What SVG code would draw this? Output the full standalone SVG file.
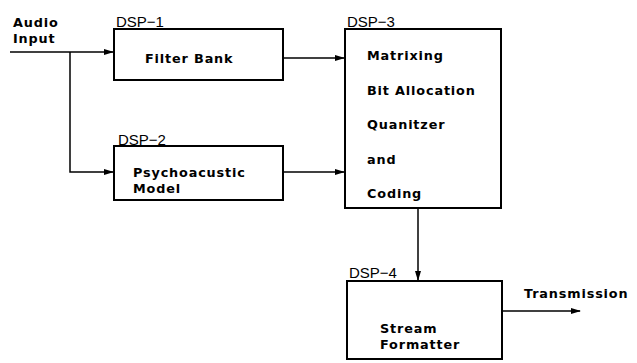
<svg xmlns="http://www.w3.org/2000/svg" width="637" height="363" viewBox="0 0 637 363">
<style>
.box{fill:#fff;stroke:#000;stroke-width:2}
.t{font-family:"DejaVu Sans","Liberation Sans",Arial,sans-serif;font-weight:bold;font-size:12.8px;letter-spacing:0.85px;fill:#000}
.lbl{font-family:"Liberation Sans",Arial,sans-serif;font-size:15px;fill:#000}
.c{fill:none;stroke:#000;stroke-width:1.5}
</style>
<defs>
<marker id="ah" markerWidth="10" markerHeight="8" refX="9" refY="4" orient="auto" markerUnits="userSpaceOnUse">
<path d="M0,1 L10,4 L0,7 Z" fill="#000"/>
</marker>
</defs>
<rect width="637" height="363" fill="#fff"/>
<g id="audio-input">
<text class="t" x="13" y="27"><tspan x="13" y="27">Audio</tspan><tspan x="13" y="42.5">Input</tspan></text>
</g>
<g id="dsp1">
<rect class="box" x="114" y="29" width="169" height="51"/>
<text class="lbl" x="116" y="27">DSP−1</text>
<text class="t" x="145" y="63">Filter Bank</text>
</g>
<g id="dsp2">
<rect class="box" x="114" y="146" width="169" height="54"/>
<text class="lbl" x="118" y="145">DSP−2</text>
<text class="t" x="133" y="177"><tspan x="133" y="177">Psychoacustic</tspan><tspan x="133" y="193">Model</tspan></text>
</g>
<g id="dsp3">
<rect class="box" x="345" y="29" width="156" height="179"/>
<text class="lbl" x="347" y="27">DSP−3</text>
<text class="t" x="367" y="60">Matrixing</text>
<text class="t" x="367" y="94.5">Bit Allocation</text>
<text class="t" x="367" y="129">Quanitzer</text>
<text class="t" x="367" y="164">and</text>
<text class="t" x="367" y="198">Coding</text>
</g>
<g id="dsp4">
<rect class="box" x="347" y="281" width="155" height="78"/>
<text class="lbl" x="349" y="278">DSP−4</text>
<text class="t" x="380" y="333"><tspan x="380" y="333">Stream</tspan><tspan x="380" y="348.5">Formatter</tspan></text>
</g>
<g id="transmission">
<text class="t" x="524" y="298">Transmission</text>
</g>
<g id="connectors">
<path class="c" d="M10,52 L113,52" marker-end="url(#ah)"/>
<path class="c" d="M70,52 L70,172 L113,172" marker-end="url(#ah)"/>
<path class="c" d="M283,58 L344,58" marker-end="url(#ah)"/>
<path class="c" d="M283,172 L344,172" marker-end="url(#ah)"/>
<path class="c" d="M418,208 L418,280" marker-end="url(#ah)"/>
<path class="c" d="M502,311 L580,311" marker-end="url(#ah)"/>
</g>
</svg>
